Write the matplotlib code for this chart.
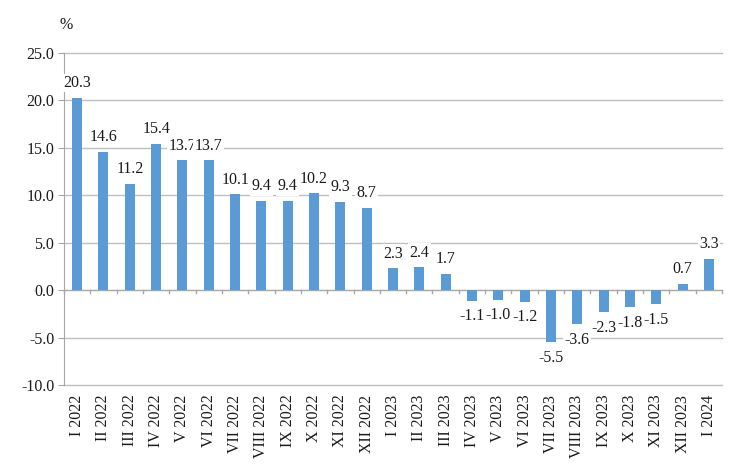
import matplotlib
matplotlib.use("Agg")
import matplotlib.pyplot as plt
import numpy as np

categories = ["I 2022", "II 2022", "III 2022", "IV 2022", "V 2022", "VI 2022",
              "VII 2022", "VIII 2022", "IX 2022", "X 2022", "XI 2022", "XII 2022",
              "I 2023", "II 2023", "III 2023", "IV 2023", "V 2023", "VI 2023",
              "VII 2023", "VIII 2023", "IX 2023", "X 2023", "XI 2023", "XII 2023",
              "I 2024"]
values = [20.3, 14.6, 11.2, 15.4, 13.7, 13.7, 10.1, 9.4, 9.4, 10.2, 9.3, 8.7,
          2.3, 2.4, 1.7, -1.1, -1.0, -1.2, -5.5, -3.6, -2.3, -1.8, -1.5, 0.7, 3.3]
yticks = [-10, -5, 0, 5, 10, 15, 20, 25]

plt.rcParams['font.family'] = ['Liberation Serif', 'DejaVu Serif']

fs = 11.5
txt_c = "#1a1a1a"
fig = plt.figure(figsize=(7.4, 4.66), dpi=100)
ax = fig.add_axes([64/740, 1-385/466, (722-64)/740, (385-53)/466])

x = np.arange(len(categories))
grid_c = "#BFBFBF"
for t in yticks:
    if t != 0:
        ax.axhline(t, color=grid_c, lw=1.0, zorder=0, clip_on=False)
ax.axhline(0, color="#A6A6A6", lw=1.0, zorder=1)
ax.bar(x, values, width=0.38, color="#5B9BD5", zorder=2)

for xi, v in zip(x, values):
    if v >= 0:
        ax.text(xi, v + 0.7, f"{v:.1f}", ha="center", va="bottom", fontsize=fs,
                color=txt_c, zorder=3,
                bbox=dict(facecolor="white", edgecolor="none", pad=1.0))
    else:
        ax.text(xi, v - 0.8, f"{v:.1f}", ha="center", va="top", fontsize=fs,
                color=txt_c, zorder=3,
                bbox=dict(facecolor="white", edgecolor="none", pad=1.0))

# category tick marks between bars on zero line
for b in np.arange(len(categories) + 1) - 0.5:
    ax.plot([b, b], [0, -0.35], color="#A6A6A6", lw=1.0, zorder=1, clip_on=False)

ax.set_xlim(-0.5, len(categories) - 0.5)
ax.set_ylim(-10, 25)
ax.set_yticks(yticks)
ax.set_yticklabels([f"{t:.1f}" for t in yticks], fontsize=fs, color=txt_c)
ax.set_xticks(x)
ax.set_xticklabels(categories, rotation=90, fontsize=fs, color=txt_c)
ax.tick_params(axis="x", length=0, pad=7)
ax.tick_params(axis="y", length=4, color="#A6A6A6", pad=3)

for s in ["top", "right", "bottom"]:
    ax.spines[s].set_visible(False)
ax.spines["left"].set_color("#A6A6A6")

fig.text(60/740, 1-25/466, "%", fontsize=fs, color=txt_c, ha="left", va="center")

fig.savefig("out.png", dpi=100)
